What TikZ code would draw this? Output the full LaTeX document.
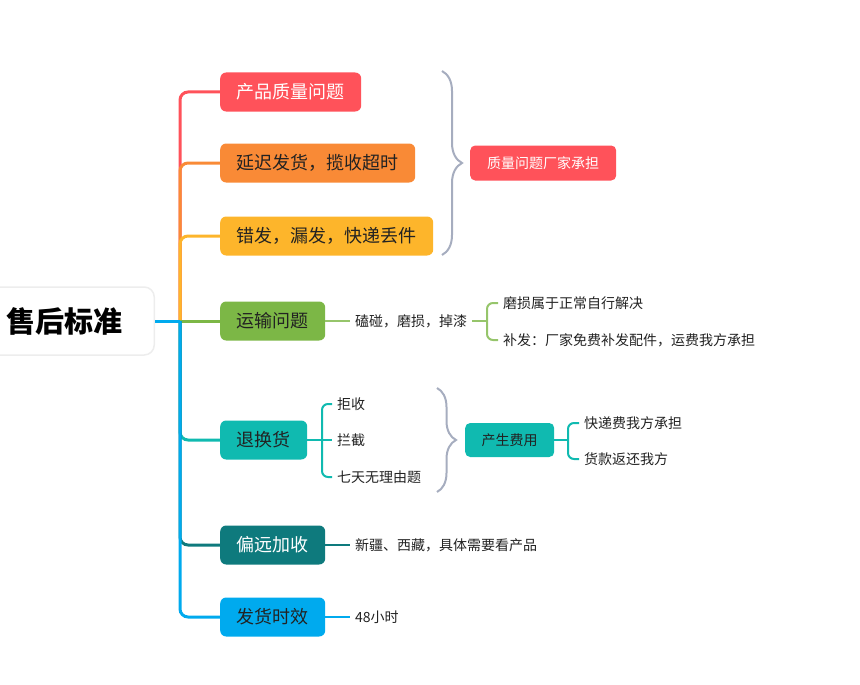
\documentclass[tikz,border=0pt]{standalone}
\usepackage{fontspec}
\setmainfont{Noto Sans CJK SC}
\usetikzlibrary{decorations.pathreplacing}

\definecolor{cRed}{HTML}{FF525A}
\definecolor{cOrange}{HTML}{F98A36}
\definecolor{cYellow}{HTML}{FDB52B}
\definecolor{cGreen}{HTML}{7CB746}
\definecolor{cTeal}{HTML}{10BAB0}
\definecolor{cDeep}{HTML}{0E7A7D}
\definecolor{cBlue}{HTML}{00AAEE}
\definecolor{cGray}{HTML}{A6ADBF}
\definecolor{cInk}{HTML}{222222}

\tikzset{
  topic/.style={rounded corners=6pt, anchor=west, minimum height=39pt, inner xsep=16.5pt,
    font=\fontsize{18}{20}\selectfont, text=cInk},
  tag/.style={rounded corners=5pt, anchor=west, minimum height=35pt, inner xsep=17pt,
    font=\fontsize{14}{16}\selectfont},
  leaf/.style={anchor=west, inner xsep=5pt, inner ysep=2pt, font=\fontsize{14}{16}\selectfont, text=cInk},
  branch/.style={line width=3pt, rounded corners=8pt},
  twig/.style={line width=2pt, rounded corners=6pt},
  brc/.style={draw=cGray, line width=2pt, decorate, decoration={brace,amplitude=20pt}},
}

\begin{document}
\begin{tikzpicture}[x=1pt,y=-1pt]
\useasboundingbox (0,0) rectangle (860,685);
\clip (0,0) rectangle (860,685);

% root
\node[fill=white, draw=black!7, line width=1.5pt, rounded corners=10pt, anchor=east,
  minimum height=68pt, inner xsep=32pt, font=\fontsize{29}{32}\selectfont\bfseries, text=black]
  (root) at (155,321) {售后标准};
\coordinate (hub) at (180,321);

% main topics
\node[topic, fill=cRed, text=white] (n1) at (220,92) {产品质量问题};
\node[topic, fill=cOrange] (n2) at (220,163) {延迟发货，揽收超时};
\node[topic, fill=cYellow] (n3) at (220,236) {错发，漏发，快递丢件};
\node[topic, fill=cGreen] (n4) at (220,321) {运输问题};
\node[topic, fill=cTeal] (n5) at (220,440) {退换货};
\node[topic, fill=cDeep, text=white] (n6) at (220,545) {偏远加收};
\node[topic, fill=cBlue] (n7) at (220,617) {发货时效};

% branches from the hub
\draw[branch, cRed] (hub) |- (n1.west);
\draw[branch, cOrange] (hub) |- (n2.west);
\draw[branch, cYellow] (hub) |- (n3.west);
\draw[branch, cGreen] (hub) -- (n4.west);
\draw[branch, cTeal] (hub) |- (n5.west);
\draw[branch, cDeep] (hub) |- (n6.west);
\draw[branch, cBlue] (hub) |- (n7.west);
\draw[branch, cBlue] (root.east) -- (hub);

% quality summary
\draw[brc] (442,71) -- (442,255);
\node[tag, fill=cRed, text=white] (q1) at (470,163) {质量问题厂家承担};

% transport
\node[leaf] (t4) at (350,321) {磕碰，磨损，掉漆};
\coordinate (f4) at (487,321);
\node[leaf] (s41) at (498,303) {磨损属于正常自行解决};
\node[leaf] (s42) at (498,340) {补发：厂家免费补发配件，运费我方承担};
\draw[twig, cGreen!80] (n4.east) -- (t4.west);
\draw[twig, cGreen!80] (t4.east) -- (f4);
\draw[twig, cGreen!80] (s41.west) -| (f4) |- (s42.west);

% returns
\coordinate (f5) at (322,440);
\node[leaf] (s51) at (332,404) {拒收};
\node[leaf] (s52) at (332,440) {拦截};
\node[leaf] (s53) at (332,477) {七天无理由题};
\draw[twig, cTeal] (n5.east) -- (s52.west);
\draw[twig, cTeal] (s51.west) -| (f5) |- (s53.west);
\draw[brc, decoration={amplitude=19pt}] (437,388) -- (437,492);
\node[tag, fill=cTeal, text=cInk, minimum height=34pt, inner xsep=16.5pt] (q5) at (465,440) {产生费用};
\coordinate (f5b) at (568,440);
\node[leaf] (s54) at (579,423) {快递费我方承担};
\node[leaf] (s55) at (579,459) {货款返还我方};
\draw[twig, cTeal] (q5.east) -- (f5b);
\draw[twig, cTeal] (s54.west) -| (f5b) |- (s55.west);

% remote areas, shipping time
\node[leaf] (t6) at (350,545) {新疆、西藏，具体需要看产品};
\node[leaf] (t7) at (350,617) {48小时};
\draw[twig, cDeep] (n6.east) -- (t6.west);
\draw[twig, cBlue] (n7.east) -- (t7.west);
\end{tikzpicture}
\end{document}
